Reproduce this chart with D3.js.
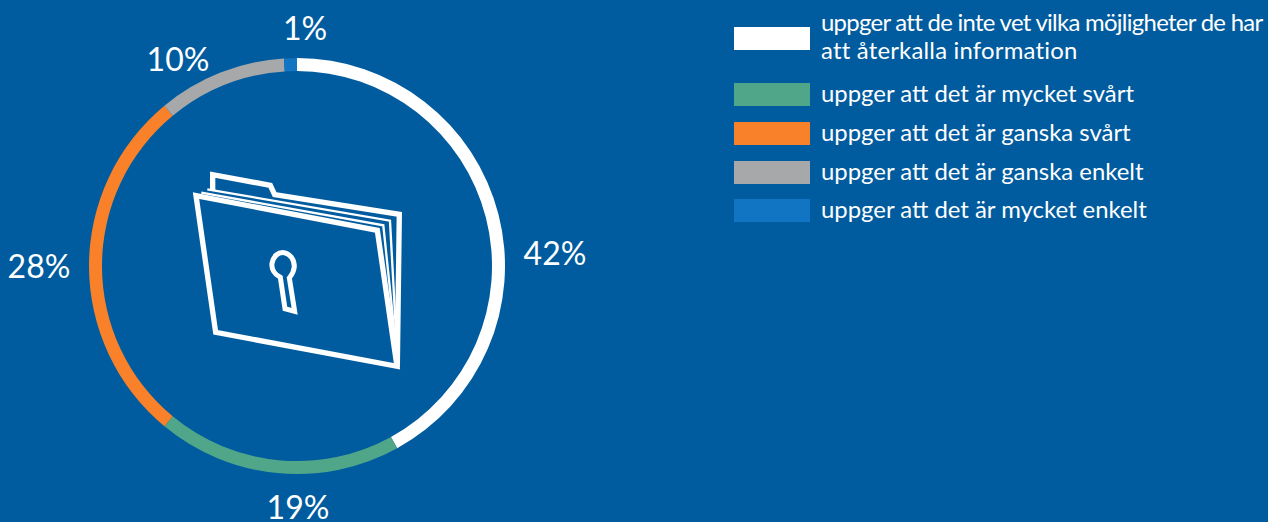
<!DOCTYPE html>
<html lang="en">
<head>
  <meta charset="UTF-8" />
  <title>Återkalla information</title>
  <style>
    html, body { margin: 0; padding: 0; background: #005c9e; overflow: hidden; }
    text { font-family: Lato, "Open Sans", sans-serif; fill: #fff; }
  </style>
</head>
<body>
  <div id="chart"></div>
  <script src="https://d3js.org/d3.v7.min.js"></script>
  <script>
    const categories = [
      ["uppger att de inte vet vilka möjligheter de har", "att återkalla information"],
      ["uppger att det är mycket svårt"],
      ["uppger att det är ganska svårt"],
      ["uppger att det är ganska enkelt"],
      ["uppger att det är mycket enkelt"]
    ];
    const values = [42, 19, 28, 10, 1];
    const colors = ["#ffffff", "#4fa688", "#f9812a", "#a7a8aa", "#1175c4"];

    const width = 1268, height = 522;
    const cx = 297, cy = 266;

    const svg = d3.select("#chart").append("svg")
      .attr("width", width)
      .attr("height", height)
      .style("display", "block");

    // ring
    const pie = d3.pie().sort(null);
    const arc = d3.arc().innerRadius(195).outerRadius(208);
    const ring = svg.append("g").attr("transform", `translate(${cx},${cy})`);

    ring.selectAll("path")
      .data(pie(values))
      .enter()
      .append("path")
        .attr("d", arc)
        .attr("fill", (d, i) => colors[i]);

    // percent labels sit by hand around the ring, offset from centre
    const labelOffsets = [[258, -1], [1, 253], [-258, 12], [-119, -195], [8, -226]];

    ring.selectAll("text")
      .data(values)
      .enter()
      .append("text")
        .attr("x", (d, i) => labelOffsets[i][0])
        .attr("y", (d, i) => labelOffsets[i][1])
        .attr("text-anchor", "middle")
        .attr("font-size", 32)
        .text(d => d + "%");

    // folder icon, drawn in the coordinates of a 3x crop
    const folder = svg.append("g")
      .attr("transform", "translate(170,150) scale(0.3333)")
      .attr("fill", "none")
      .attr("stroke", "#fff")
      .attr("stroke-linejoin", "miter");

    folder.append("path")
      .attr("stroke-width", 16)
      .attr("d", "M128,120 L128,74 L301,106 L314,134 L688,193 L682,650");
    folder.append("path")
      .attr("stroke-width", 7)
      .attr("d", "M112,118 L660,212 L682,620");
    folder.append("path")
      .attr("stroke-width", 7)
      .attr("d", "M94,128 L640,226 L682,630");
    folder.append("path")
      .attr("stroke-width", 16)
      .attr("d", "M78,137 L622,241 L681,649 L137,547 Z");
    folder.append("path")
      .attr("stroke-width", 15)
      .attr("d", "M345,476 L331,382 C312,372 304,355 306,340 C310,318 325,306 342,308 C362,312 373,330 373,350 C372,362 368,372 358,384 L374,484 Z");

    // legend
    const legendTop = [27, 83, 122, 161, 199];
    const legend = svg.append("g");

    const rows = legend.selectAll("g")
      .data(categories)
      .enter()
      .append("g")
        .attr("transform", (d, i) => `translate(734,${legendTop[i]})`);

    rows.append("rect")
      .attr("width", 76)
      .attr("height", 23)
      .attr("fill", (d, i) => colors[i]);

    rows.each(function(lines) {
      const first = lines.length > 1 ? 4 : 19;
      d3.select(this).selectAll("text")
        .data(lines)
        .enter()
        .append("text")
          .attr("x", 87)
          .attr("y", (d, j) => first + j * 27.5)
          .attr("font-size", 23.9)
          .attr("letter-spacing", (d, j) => lines.length > 1 ? (j === 0 ? -0.7 : 0.2) : 0)
          .text(d => d);
    });
  </script>
</body>
</html>
